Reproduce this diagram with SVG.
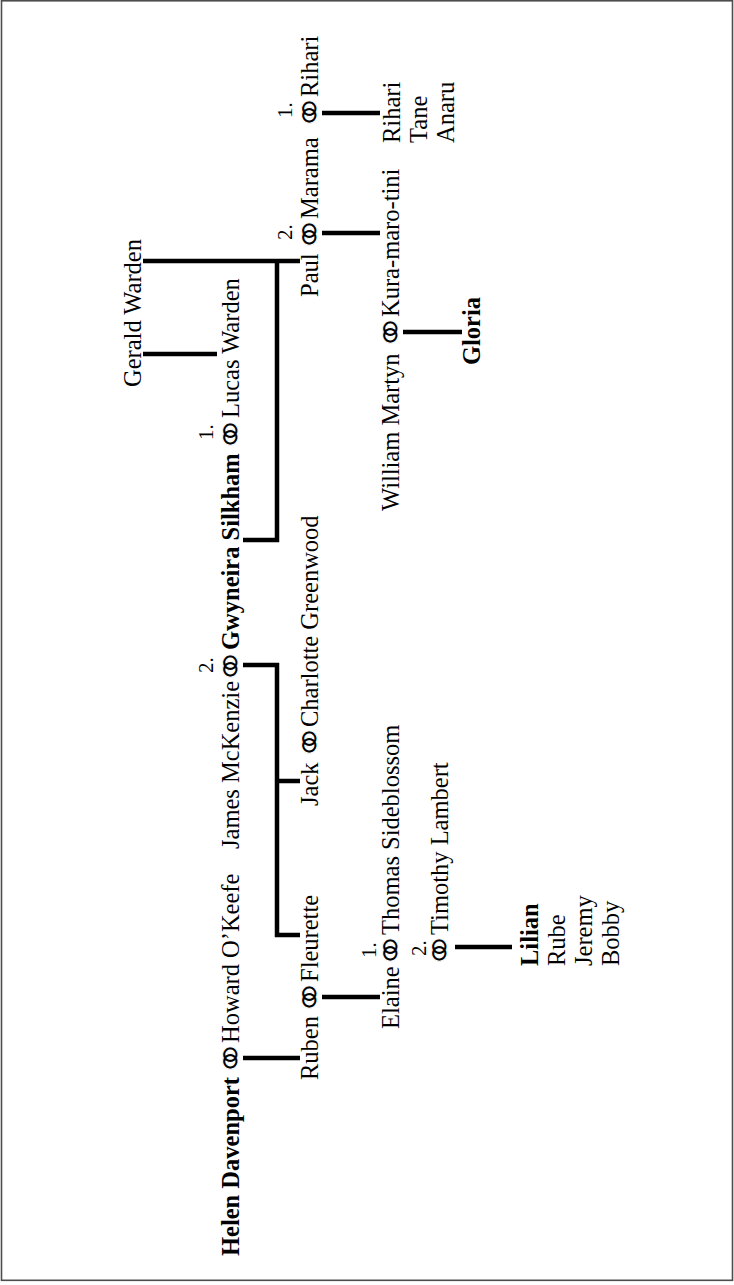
<svg xmlns="http://www.w3.org/2000/svg" width="734" height="1285" viewBox="0 0 734 1285">
<style>
.t{font-family:"Liberation Serif","DejaVu Serif",serif;font-size:24.5px;fill:#000}
.b{font-weight:bold}
.m{font-family:"DejaVu Sans",sans-serif;font-size:46px;fill:#000;stroke:#fff;stroke-width:1.1px;text-anchor:middle}
.n{font-family:"Liberation Serif",serif;font-size:21px;fill:#000;text-anchor:middle}
.ln{stroke:#000;stroke-width:4.5;fill:none;stroke-linecap:butt}
</style>
<rect x="1.5" y="0.8" width="731" height="1279.5" fill="#fff" stroke="#4d4d4d" stroke-width="1.6"/>
<g id="connectors">
<path class="ln" d="M243,1058 H300"/>
<path class="ln" d="M322,997 H380"/>
<path class="ln" d="M455,947 H512"/>
<path class="ln" d="M243,665 H277 V935 H300 M277,781 H300"/>
<path class="ln" d="M243,540 H277 V261 M143,261 H300"/>
<path class="ln" d="M143,354 H217"/>
<path class="ln" d="M322,233 H380"/>
<path class="ln" d="M322,113 H380"/>
<path class="ln" d="M403,332 H462"/>
</g>
<g id="helen-howard">
<text class="t b" transform="translate(239,1256) rotate(-90)">Helen Davenport</text>
<text class="m" transform="translate(246.5,1058) rotate(-90)">⚭</text>
<text class="t" transform="translate(239,1043) rotate(-90)">Howard O’Keefe</text>
</g>
<g id="james-gwyneira-lucas">
<text class="t" transform="translate(239,849) rotate(-90)">James McKenzie</text>
<text class="n" transform="translate(213,665) rotate(-90)">2.</text>
<text class="m" transform="translate(246.5,666) rotate(-90)">⚭</text>
<text class="t b" transform="translate(239,650) rotate(-90)">Gwyneira Silkham</text>
<text class="n" transform="translate(213,432) rotate(-90)">1.</text>
<text class="m" transform="translate(246.5,434) rotate(-90)">⚭</text>
<text class="t" transform="translate(239,418) rotate(-90)">Lucas Warden</text>
</g>
<g id="gerald">
<text class="t" transform="translate(141,387) rotate(-90)">Gerald Warden</text>
</g>
<g id="ruben-fleurette">
<text class="t" transform="translate(318,1080) rotate(-90)">Ruben</text>
<text class="m" transform="translate(325.5,997) rotate(-90)">⚭</text>
<text class="t" transform="translate(318,982) rotate(-90)">Fleurette</text>
</g>
<g id="jack-charlotte">
<text class="t" transform="translate(318,806) rotate(-90)">Jack</text>
<text class="m" transform="translate(325.5,742) rotate(-90)">⚭</text>
<text class="t" transform="translate(318,727) rotate(-90)">Charlotte Greenwood</text>
</g>
<g id="paul-marama-rihari">
<text class="t" transform="translate(318,297) rotate(-90)">Paul</text>
<text class="n" transform="translate(292,232) rotate(-90)">2.</text>
<text class="m" transform="translate(325.5,234) rotate(-90)">⚭</text>
<text class="t" transform="translate(318,219) rotate(-90)">Marama</text>
<text class="n" transform="translate(292,110) rotate(-90)">1.</text>
<text class="m" transform="translate(325.5,112) rotate(-90)">⚭</text>
<text class="t" transform="translate(318,97) rotate(-90)">Rihari</text>
</g>
<g id="elaine">
<text class="t" transform="translate(399,1029) rotate(-90)">Elaine</text>
<text class="n" transform="translate(376,950) rotate(-90)">1.</text>
<text class="m" transform="translate(406.5,950) rotate(-90)">⚭</text>
<text class="t" transform="translate(399,935) rotate(-90)">Thomas Sideblossom</text>
<text class="n" transform="translate(426,948) rotate(-90)">2.</text>
<text class="m" transform="translate(455.5,950) rotate(-90)">⚭</text>
<text class="t" transform="translate(448,935) rotate(-90)">Timothy Lambert</text>
</g>
<g id="william-kura">
<text class="t" transform="translate(399,511) rotate(-90)">William Martyn</text>
<text class="m" transform="translate(406.5,332) rotate(-90)">⚭</text>
<text class="t" transform="translate(399,317) rotate(-90)">Kura-maro-tini</text>
</g>
<g id="rihari-children">
<text class="t" transform="translate(400,143) rotate(-90)">Rihari</text>
<text class="t" transform="translate(427,143) rotate(-90)">Tane</text>
<text class="t" transform="translate(454,143) rotate(-90)">Anaru</text>
</g>
<g id="gloria">
<text class="t b" transform="translate(480,365) rotate(-90)">Gloria</text>
</g>
<g id="lilian-siblings">
<text class="t b" transform="translate(538,966) rotate(-90)">Lilian</text>
<text class="t" transform="translate(565,966) rotate(-90)">Rube</text>
<text class="t" transform="translate(592,966) rotate(-90)">Jeremy</text>
<text class="t" transform="translate(619,966) rotate(-90)">Bobby</text>
</g>
</svg>
